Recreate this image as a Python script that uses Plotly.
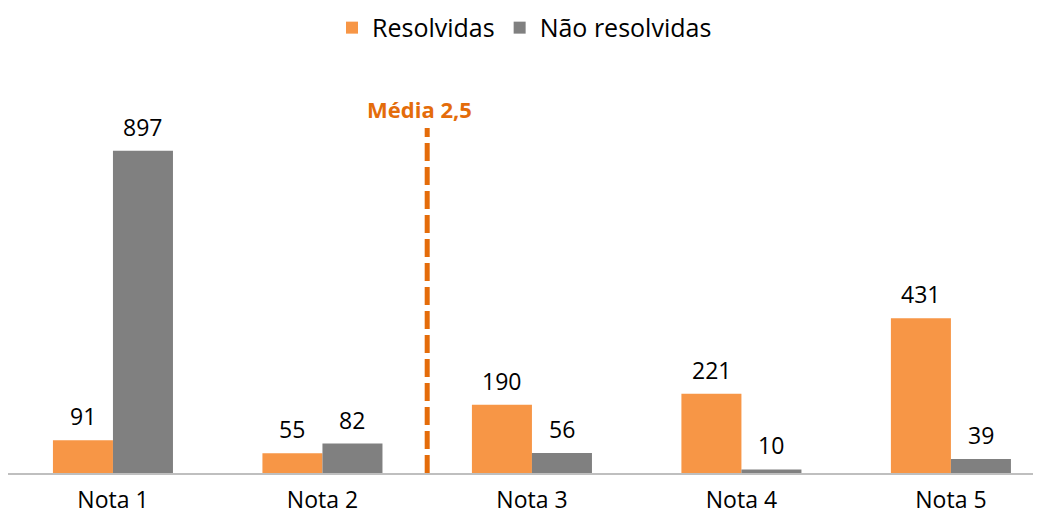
import plotly.graph_objects as go

categories = ["Nota 1", "Nota 2", "Nota 3", "Nota 4", "Nota 5"]
grades = [1, 2, 3, 4, 5]
resolvidas = [91, 55, 190, 221, 431]
nao_resolvidas = [897, 82, 56, 10, 39]
media = 2.5
media_label = "Média 2,5"

ORANGE = "#F79646"
GRAY = "#808080"
LINE = "#E46C0A"
FONT = "Open Sans, Noto Sans, sans-serif"

fig = go.Figure()
fig.add_trace(go.Bar(x=grades, y=resolvidas, name="Resolvidas",
                     marker=dict(color=ORANGE, line=dict(width=0))))
fig.add_trace(go.Bar(x=grades, y=nao_resolvidas, name="Não resolvidas",
                     marker=dict(color=GRAY, line=dict(width=0))))

annotations = []
for g, a, b in zip(grades, resolvidas, nao_resolvidas):
    for v, sh in ((a, -30), (b, 30)):
        annotations.append(dict(x=g, y=v, text=str(v), showarrow=False, xshift=sh,
                                yanchor="bottom", yshift=6,
                                font=dict(size=23, color="#000000", family=FONT)))
annotations.append(dict(x=media, y=961, text="<b>" + media_label + "</b>", showarrow=False,
                        xshift=-8, yanchor="bottom", yshift=2,
                        font=dict(size=22, color=LINE, family=FONT)))

fig.add_shape(type="line", x0=media, x1=media, y0=0, y1=961, xref="x", yref="y",
              line=dict(color=LINE, width=5, dash="18px,6px"))

fig.update_layout(
    width=1033, height=510,
    margin=dict(l=0, r=0, t=52, b=45),
    plot_bgcolor="white", paper_bgcolor="white",
    barmode="group", bargap=0.427, bargroupgap=0,
    font=dict(family=FONT, size=20, color="#000000"),
    legend=dict(orientation="h", x=0.5, xanchor="center", y=0.961, yanchor="middle",
                yref="container", font=dict(size=25), traceorder="normal"),
    annotations=annotations,
    showlegend=True,
)
fig.update_xaxes(range=[0.499, 5.43], tickmode="array",
                 tickvals=grades, ticktext=categories, automargin=False,
                 showline=True, linecolor="#BFBFBF", linewidth=2, showgrid=False,
                 ticks="", tickfont=dict(size=23), ticklabelstandoff=5, zeroline=False)
fig.update_yaxes(range=[0, 1150], visible=False, showgrid=False, zeroline=False)

fig.write_html("out.html")
